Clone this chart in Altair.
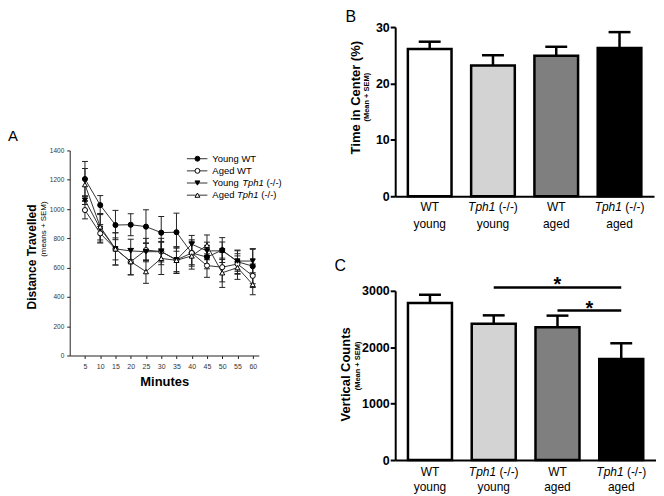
import altair as alt
import pandas as pd

FONT = "Liberation Sans"

# ---------------- Panel A data ----------------
minutes = [5, 10, 15, 20, 25, 30, 35, 40, 45, 50, 55, 60]
series_names = ["Young WT", "Aged WT", "Young Tph1 (-/-)", "Aged Tph1 (-/-)"]
young_wt_mean = [1205, 1027, 891, 893, 880, 839, 842, 700, 672, 720, 640, 610]
young_wt_sem = [120, 65, 100, 75, 115, 110, 130, 80, 80, 85, 80, 120]
aged_wt_mean = [993, 834, 728, 641, 720, 710, 653, 700, 614, 603, 625, 544]
aged_wt_sem = [60, 60, 110, 90, 80, 90, 80, 90, 80, 100, 70, 80]
young_tph1_mean = [1061, 868, 728, 714, 709, 709, 653, 760, 714, 715, 645, 645]
young_tph1_sem = [30, 100, 75, 80, 60, 70, 90, 60, 60, 60, 70, 80]
aged_tph1_mean = [1167, 879, 728, 641, 573, 663, 650, 680, 753, 565, 600, 485]
aged_tph1_sem = [110, 90, 110, 90, 80, 110, 90, 90, 70, 100, 80, 70]
distance_ticks = [0, 200, 400, 600, 800, 1000, 1200, 1400]

# ---------------- Panels B, C data ----------------
groups = ["WT young", "Tph1 (-/-) young", "WT aged", "Tph1 (-/-) aged"]
genotype = ["WT", "Tph1", "WT", "Tph1"]
genotype_suffix = ["", "(-/-)", "", "(-/-)"]
age = ["young", "young", "aged", "aged"]
time_center_mean = [26.1, 23.2, 24.9, 26.3]
time_center_sem = [1.3, 1.8, 1.6, 2.8]
time_ticks = [0, 10, 20, 30]
vertical_mean = [2785, 2415, 2355, 1790]
vertical_sem = [145, 150, 205, 280]
vertical_ticks = [0, 1000, 2000, 3000]
sig_from = ["Tph1 (-/-) young", "WT aged"]
sig_to = ["Tph1 (-/-) aged", "Tph1 (-/-) aged"]
sig_y = [3060, 2650]
sig_mark = ["*", "*"]

# ---------------- styles ----------------
shape_range = ["circle", "circle", "triangle-down", "triangle-up"]
fill_range = ["black", "white", "black", "white"]
bar_fills = ["#ffffff", "#d3d3d3", "#7f7f7f", "#000000"]
ink = "#222222"

ARIAL = {' ': 278, '(': 333, ')': 333, '-': 333, '/': 278, 'A': 667, 'W': 944, 'T': 611,
         'Y': 667, 'y': 500, '1': 556}


def tw(s, size):
    return sum(ARIAL.get(c, 556) for c in s) * size / 1000.0


one = pd.DataFrame({"k": [0]})


def txt(s, x, y, size, weight="normal", style="normal", angle=0, align="left",
        baseline="alphabetic", color="black"):
    return alt.Chart(pd.DataFrame({"t": [s]})).mark_text(
        font=FONT, fontSize=size, fontWeight=weight, fontStyle=style, angle=angle,
        align=align, baseline=baseline, color=color
    ).encode(x=alt.value(x), y=alt.value(y), text="t:N")


# ================= Panel A =================
WA, HA = 190, 206
means_list = [young_wt_mean, aged_wt_mean, young_tph1_mean, aged_tph1_mean]
sems_list = [young_wt_sem, aged_wt_sem, young_tph1_sem, aged_tph1_sem]
rows = []
for name, m, s, shp, fc in zip(series_names, means_list, sems_list, shape_range, fill_range):
    for t, mv, sv in zip(minutes, m, s):
        rows.append({"series": name, "minute": t, "mean": mv, "lo": mv - sv, "hi": mv + sv,
                     "shape": shp, "fillc": fc})
dfA = pd.DataFrame(rows)

sAx = alt.Scale(domain=[0, 62], nice=False, zero=False)
axAx = alt.Axis(values=minutes, title="Minutes", grid=False, domainColor=ink, tickColor=ink,
                tickSize=3, labelFontSize=7, labelColor="#333333", labelPadding=4,
                titleFontSize=13, titleFontWeight="bold", titlePadding=6, titleColor="black")
sAy = alt.Scale(domain=[0, 1400], nice=False)
axAy = alt.Axis(values=distance_ticks, format="d", title=None, grid=False, domainColor=ink,
                tickColor=ink, tickSize=3, labelFontSize=6.5, labelColor="#333333", labelPadding=3)
xA = alt.X("minute:Q", scale=sAx, axis=axAx)


def yA(f):
    return alt.Y(f, scale=sAy, axis=axAy)


baseA = alt.Chart(dfA)
linesA = baseA.mark_line(color="#333333", strokeWidth=1).encode(x=xA, y=yA("mean:Q"), detail="series:N")
errA = baseA.mark_rule(color=ink, strokeWidth=1).encode(x=xA, y=yA("lo:Q"), y2="hi:Q")
capLo = baseA.mark_tick(orient="horizontal", size=6, thickness=1, color=ink, opacity=1).encode(x=xA, y=yA("lo:Q"))
capHi = baseA.mark_tick(orient="horizontal", size=6, thickness=1, color=ink, opacity=1).encode(x=xA, y=yA("hi:Q"))
ptsA = baseA.mark_point(filled=True, size=26, stroke="black", strokeWidth=1, opacity=1).encode(
    x=xA, y=yA("mean:Q"),
    shape=alt.Shape("shape:N", scale=None),
    fill=alt.Fill("fillc:N", scale=None),
)

legend_layers = []
LEG_FS = 9.5
for i, name in enumerate(series_names):
    ly = 8.3 + i * 12.2
    legend_layers.append(alt.Chart(one).mark_rule(color="#333333", strokeWidth=1).encode(
        x=alt.value(117.7), x2=alt.value(138.3), y=alt.value(ly)))
    legend_layers.append(alt.Chart(one).mark_point(
        shape=shape_range[i], size=24, filled=True, fill=fill_range[i], stroke="black",
        strokeWidth=1, opacity=1).encode(x=alt.value(128.3), y=alt.value(ly)))
    tx = 143.3
    if "Tph1" in name:
        pre, post = name.split("Tph1")
        legend_layers.append(txt(pre.strip(), tx, ly, LEG_FS, baseline="middle"))
        tx += tw(pre, LEG_FS)
        legend_layers.append(txt("Tph1", tx, ly, LEG_FS, style="italic", baseline="middle"))
        tx += tw("Tph1 ", LEG_FS)
        legend_layers.append(txt(post.strip(), tx, ly, LEG_FS, baseline="middle"))
    else:
        legend_layers.append(txt(name, tx, ly, LEG_FS, baseline="middle"))

panelA = alt.layer(
    linesA, errA, capLo, capHi, ptsA, *legend_layers,
    txt("A", -62, -10, 15),
    txt("Distance Travelled", -38, 107, 12, weight="bold", angle=270, align="center", baseline="middle"),
    txt("(means + SEM)", -26, 79, 8, angle=270, align="center", baseline="middle"),
).properties(width=WA, height=HA)

spacer = alt.Chart(one).mark_point(opacity=0).encode(
    x=alt.value(0), y=alt.value(0)).properties(width=1, height=85)
colA = alt.vconcat(spacer, panelA, spacing=17)


# ================= Panels B and C =================
PI, PO = 0.31, 0.2


def bar_panel(means, sems, ticks, letter, letter_xy, title, title_xy, sub, sub_xy, W, H,
              l1y, l2y, sig=False):
    hi = [m + s for m, s in zip(means, sems)]
    df = pd.DataFrame({"group": groups, "mean": means, "hi": hi, "geno": genotype,
                       "suffix": genotype_suffix, "age": age, "fillc": bar_fills})
    sx = alt.Scale(domain=groups, paddingInner=PI, paddingOuter=PO)
    axx = alt.Axis(labels=False, ticks=False, title=None, grid=False, domainColor="black",
                   domainWidth=2)
    x = alt.X("group:N", scale=sx, axis=axx, sort=groups)
    sy = alt.Scale(domain=[ticks[0], ticks[-1]], nice=False)
    axy = alt.Axis(values=ticks, format="d", title=None, grid=False, domainColor="black",
                   domainWidth=2, tickColor="black", tickWidth=2, tickSize=5, labelFontSize=12.5,
                   labelFontWeight="bold", labelColor="black", labelPadding=1)

    def y(f):
        return alt.Y(f, scale=sy, axis=axy)

    base = alt.Chart(df)
    bars = base.mark_bar(stroke="black", strokeWidth=2.5).encode(
        x=x, y=y("mean:Q"), fill=alt.Fill("fillc:N", scale=None))
    err = base.mark_rule(color="black", strokeWidth=2.5).encode(x=x, y=y("mean:Q"), y2="hi:Q")
    cap = base.mark_tick(orient="horizontal", size=22, thickness=2.5, color="black",
                         opacity=1).encode(x=x, y=y("hi:Q"))
    wt = df[df.geno == "WT"]
    tp = df[df.geno == "Tph1"]
    FS = 12
    total = tw("Tph1 (-/-)", FS)
    d_it = -total / 2 + tw("Tph1", FS)
    d_suf = d_it + tw(" ", FS)
    l1a = alt.Chart(wt).mark_text(font=FONT, fontSize=FS, baseline="middle", align="center").encode(
        x=x, y=alt.value(H + l1y), text="geno:N")
    l1b = alt.Chart(tp).mark_text(font=FONT, fontSize=FS, fontStyle="italic", baseline="middle",
                                  align="right", dx=d_it).encode(x=x, y=alt.value(H + l1y), text="geno:N")
    l1c = alt.Chart(tp).mark_text(font=FONT, fontSize=FS, baseline="middle", align="left",
                                  dx=d_suf).encode(x=x, y=alt.value(H + l1y), text="suffix:N")
    l2 = base.mark_text(font=FONT, fontSize=FS, baseline="middle", align="center").encode(
        x=x, y=alt.value(H + l2y), text="age:N")
    layers = [bars, err, cap, l1a, l1b, l1c, l2,
              txt(letter, letter_xy[0], letter_xy[1], 16),
              txt(title, title_xy[0], title_xy[1], 13, weight="bold", angle=270, align="center",
                  baseline="middle"),
              txt(sub, sub_xy[0], sub_xy[1], 7.5, weight="bold", angle=270, align="center",
                  baseline="middle")]
    if sig:
        dfs = pd.DataFrame({"from": sig_from, "to": sig_to, "y": sig_y, "s": sig_mark})
        layers.append(alt.Chart(dfs).mark_rule(color="black", strokeWidth=2.5).encode(
            x=alt.X("from:N", scale=sx, axis=axx, sort=groups), x2="to:N", y=y("y:Q")))
        step = W / (len(groups) - PI + 2 * PO)
        for i in range(len(sig_from)):
            span = groups.index(sig_to[i]) - groups.index(sig_from[i])
            layers.append(alt.Chart(dfs.iloc[[i]]).mark_text(
                font=FONT, fontSize=20, fontWeight="bold", align="center", baseline="alphabetic",
                dx=-span * step / 2, dy=4).encode(
                x=alt.X("to:N", scale=sx, axis=axx, sort=groups), y=y("y:Q"), text="s:N"))
    return alt.layer(*layers).properties(width=W, height=H)


panelB = bar_panel(time_center_mean, time_center_sem, time_ticks, "B", (-50, -5),
                   "Time in Center (%)", (-39, 71), "(Mean + SEM)", (-28.5, 70.5),
                   260, 170, 11, 28)
panelC = bar_panel(vertical_mean, vertical_sem, vertical_ticks, "C", (-61, -20),
                   "Vertical Counts", (-49, 84), "(Mean + SEM)", (-37, 75.5),
                   262, 170, 12, 27, sig=True)
colBC = alt.vconcat(panelB, panelC, spacing=28)

chart = alt.hconcat(colA, colBC, spacing=53).properties(
    padding={"left": 0, "top": 0, "right": 0, "bottom": 0}
).configure_view(stroke=None).configure_axis(labelFont=FONT, titleFont=FONT).configure_text(font=FONT)

chart.save("out.html", embed_options={"renderer": "svg", "actions": False})
